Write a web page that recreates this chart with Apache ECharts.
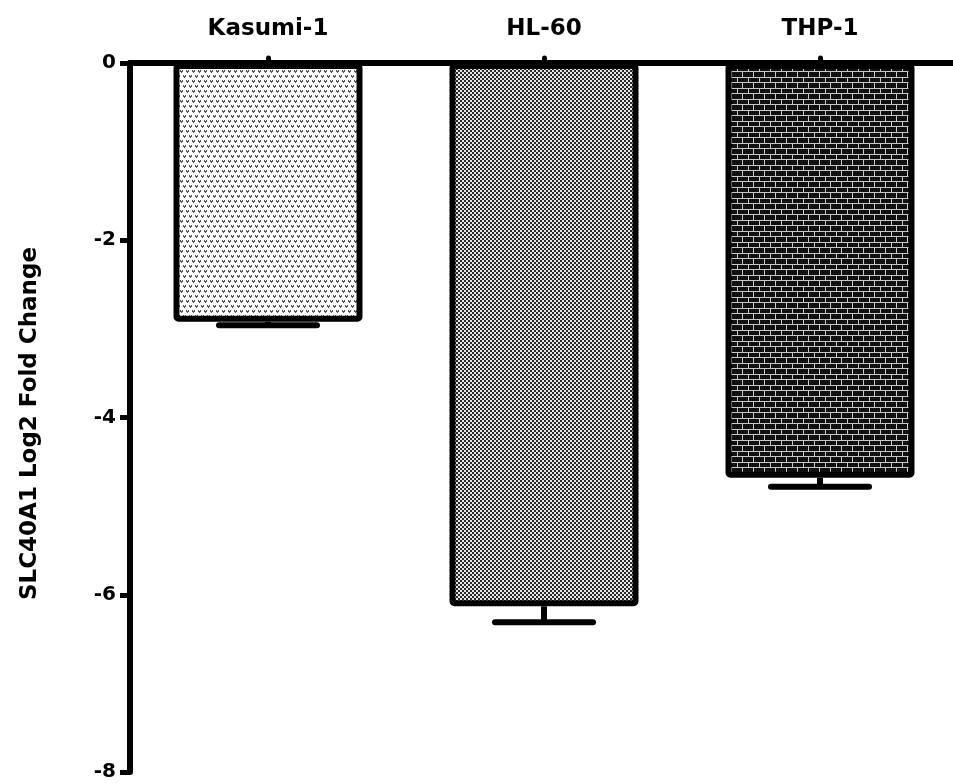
<!DOCTYPE html>
<html>
<head>
<meta charset="utf-8">
<script src="https://cdn.jsdelivr.net/npm/echarts@6/dist/echarts.min.js"></script>
<style>
html,body{margin:0;padding:0;background:#fff;overflow:hidden;}
#chart{width:962px;height:783px;}
</style>
</head>
<body>
<div id="chart"></div>
<script>
const categories = ['Kasumi-1', 'HL-60', 'THP-1'];
const values = [-2.92, -6.13, -4.68];
const errors = [0.04, 0.18, 0.10];
const yTicks = [0, -2, -4, -6, -8];

function makeTile(w, h, draw) {
  const c = document.createElement('canvas');
  c.width = w; c.height = h;
  const ctx = c.getContext('2d');
  draw(ctx);
  return c;
}
// Kasumi-1: light dotted "v" marks
const patKasumi = makeTile(6, 10, ctx => {
  ctx.fillStyle = '#ffffff'; ctx.fillRect(0, 0, 6, 10);
  ctx.fillStyle = '#555555';
  [[0,0],[3,5]].forEach(([x,y]) => {
    ctx.fillRect(x, y, 1, 1);
    ctx.fillRect(x + 2, y, 1, 1);
    ctx.fillRect(x, y + 1, 3, 1);
    ctx.fillRect(x + 1, y + 2, 1, 1);
  });
});
// HL-60: fine checkerboard
const patHL = makeTile(4, 4, ctx => {
  ctx.fillStyle = '#e6e6e6'; ctx.fillRect(0, 0, 4, 4);
  ctx.fillStyle = '#2a2a2a';
  ctx.fillRect(0, 0, 2, 2);
  ctx.fillRect(2, 2, 2, 2);
});
// THP-1: bricks
const patTHP = makeTile(22, 11, ctx => {
  ctx.fillStyle = '#111111'; ctx.fillRect(0, 0, 22, 11);
  ctx.fillStyle = '#c8c8c8';
  ctx.fillRect(0, 0, 22, 1);
  ctx.fillRect(0, 5, 22, 1);
  ctx.fillRect(0, 1, 1, 4);
  ctx.fillRect(11, 1, 1, 4);
  ctx.fillRect(5, 6, 1, 5);
  ctx.fillRect(16, 6, 1, 5);
});
const patterns = [patKasumi, patHL, patTHP];

const chart = echarts.init(document.getElementById('chart'), null, {renderer: 'canvas'});
const font = '"DejaVu Sans", sans-serif';

chart.setOption({
  animation: false,
  backgroundColor: '#ffffff',
  grid: {left: 130, right: 4, top: 63, bottom: 11, containLabel: false},
  xAxis: {
    type: 'category',
    data: categories,
    position: 'top',
    axisLine: {lineStyle: {color: '#000', width: 6}},
    axisTick: {show: true, alignWithLabel: true, length: 5, inside: false,
      lineStyle: {color: '#000', width: 5, cap: 'round'}},
    axisLabel: {color: '#000', fontFamily: font, fontWeight: 'bold', fontSize: 23, margin: 22},
    z: 10
  },
  yAxis: {
    type: 'value',
    min: -8, max: 0, interval: 2,
    name: 'SLC40A1 Log2 Fold Change',
    nameLocation: 'middle',
    nameGap: 88,
    nameRotate: 90,
    nameTextStyle: {color: '#000', fontFamily: font, fontWeight: 'bold', fontSize: 23, padding: [0, 12, 0, 0]},
    axisLine: {show: true, lineStyle: {color: '#000', width: 6}},
    axisTick: {show: true, length: 10, lineStyle: {color: '#000', width: 5}},
    axisLabel: {color: '#000', fontFamily: font, fontWeight: 'bold', fontSize: 20, margin: 14,
      formatter: v => yTicks.includes(v) ? String(v) : ''},
    splitLine: {show: false},
    z: 10
  },
  series: [
    {
      type: 'bar',
      barWidth: 189,
      data: values.map((v, i) => ({
        value: v,
        itemStyle: {color: {image: patterns[i], repeat: 'repeat'}, borderColor: '#000', borderWidth: 6, borderRadius: 2}
      })),
      z: 2
    },
    {
      type: 'custom',
      data: values.map((v, i) => [i, v, errors[i]]),
      renderItem: (params, api) => {
        const i = api.value(0), v = api.value(1), e = api.value(2);
        const top = api.coord([i, v]);
        const bot = api.coord([i, v - e]);
        const half = 49;
        return {
          type: 'group',
          children: [
            {type: 'line', shape: {x1: top[0], y1: top[1], x2: bot[0], y2: bot[1]},
              style: {stroke: '#000', lineWidth: 6}},
            {type: 'line', shape: {x1: bot[0] - half, y1: bot[1], x2: bot[0] + half, y2: bot[1]},
              style: {stroke: '#000', lineWidth: 6, lineCap: 'round'}}
          ]
        };
      },
      z: 1
    }
  ]
});
</script>
</body>
</html>
